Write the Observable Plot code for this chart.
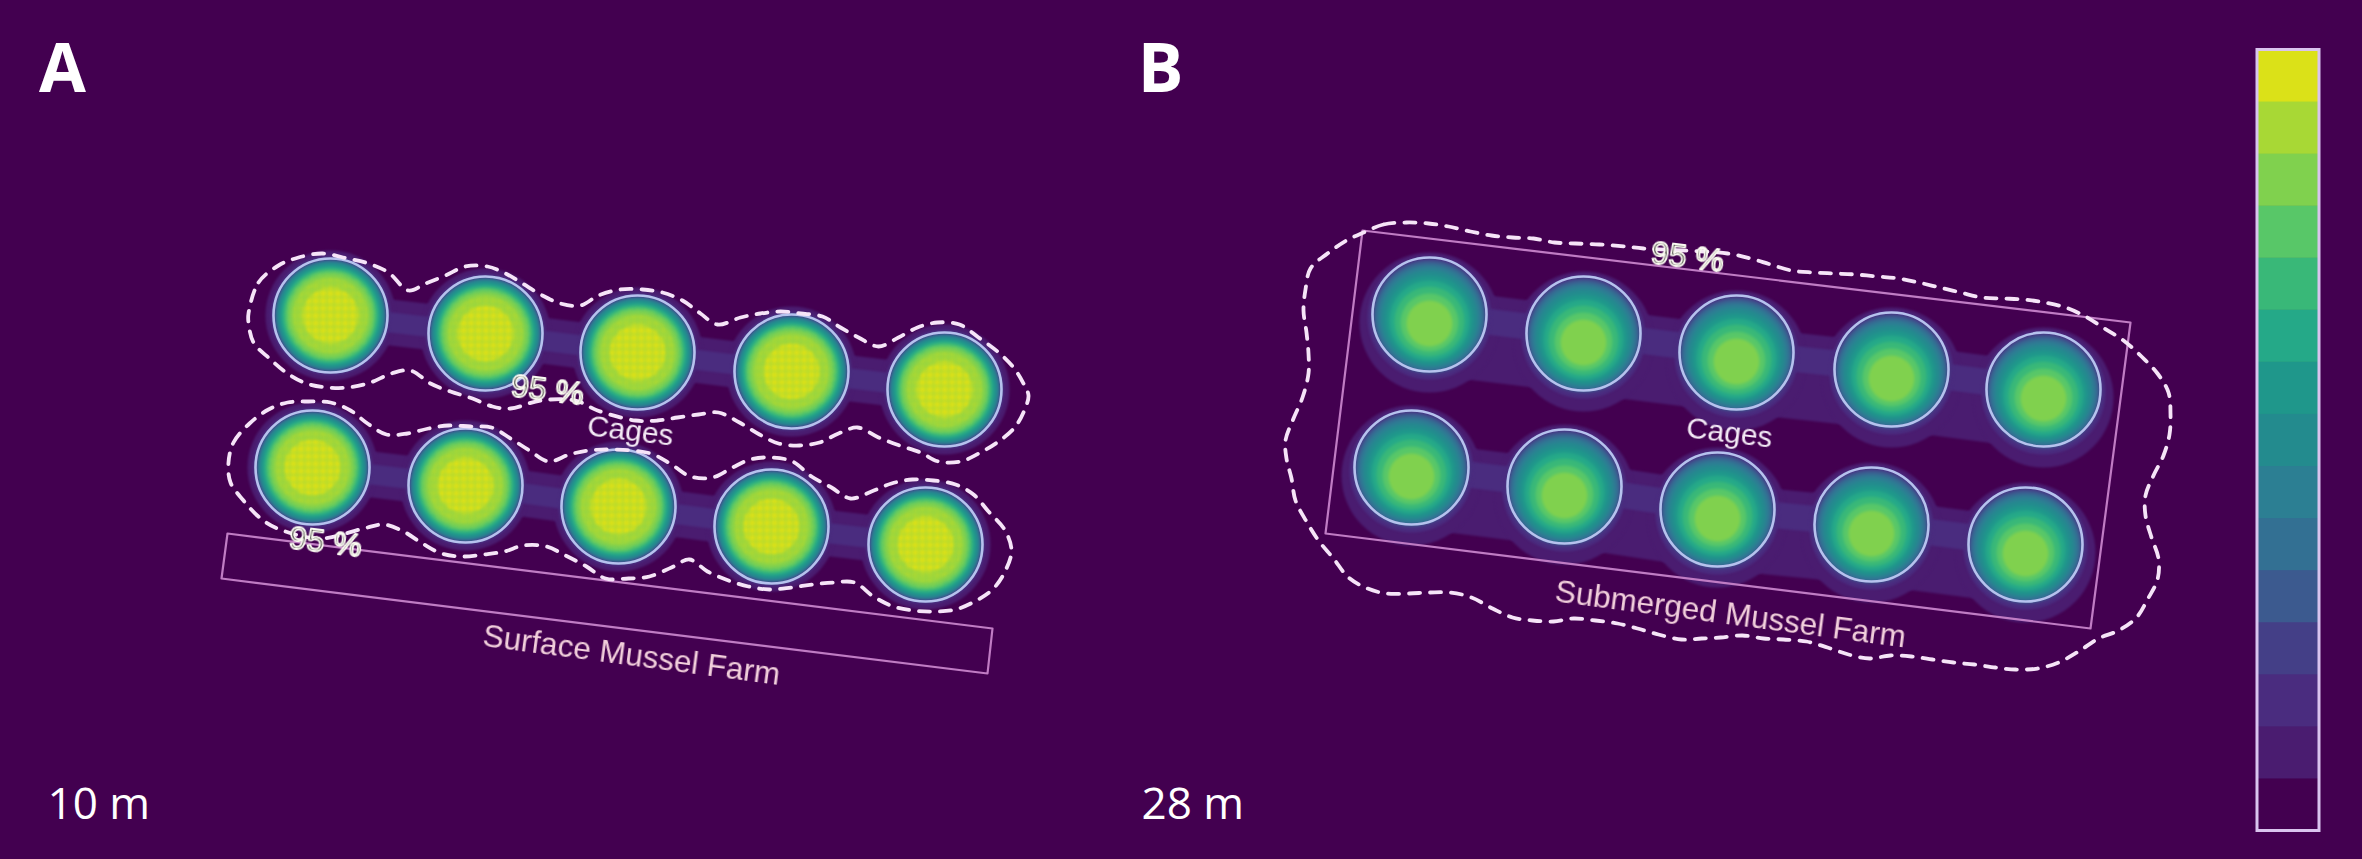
<!DOCTYPE html>
<html>
<head>
<meta charset="utf-8">
<script src="https://cdn.jsdelivr.net/npm/d3@7"></script>
<script src="https://cdn.jsdelivr.net/npm/@observablehq/plot@0.6"></script>
<style>
html,body{margin:0;padding:0;background:#430050;}
svg{display:block;}
.soft{filter:blur(1px);}
.core{filter:blur(1.6px);}
.softer{filter:blur(0.6px);}
</style>
</head>
<body>
<div id="chart"></div>
<script>
// Percentage levels of the stepped scale, bottom (0) to top (14)
const levels = d3.range(15);
const palette = ["#430050","#4a1c70","#4a2c7f","#443f87","#3c5a8f","#337093","#2c7f93","#238b8e","#1f978b","#25a988","#39b878","#58c768","#80d14e","#a8d835","#dbe118"];

// Cage centres, panel A
const cageAx = [330,485,637,791,944,312,465,618,771,925];
const cageAy = [315,333,352,371,389,467,485,506,526,544];
// Cage centres, panel B
const cageBx = [1429,1583,1736,1891,2043,1411,1564,1717,1871,2025];
const cageBy = [314,333,352,369,389,467,486,509,524,544];
const cageRadius = 57;
const meshRadius = 44;

// Outer edge of each concentration band measured from cage centre
const bandRadiusA = [0,65,60,57,56,55,54,53,51,49,47,45,42,38,28];
const bandRadiusB = [0,70,62,58,56,54,51,48,44,40,35,29,23,0,0];
// Downward displacement of each band's centre, panel B
const bandShiftB = [0,8,3,2,2,3,3,4,5,6,7,8,9,9,9];

// Bridges of low concentration between neighbouring cages: width, shift
const bridgeWidthA = [0,46,20];
const bridgeWidthB = [0,86,26];
const bridgeShiftB = [0,17,0];

// Farm outlines
const farmA = [[227,533],[992,628],[987,673],[221,578]];
const farmB = [[1362,230],[2130,322],[2090,628],[1325,533]];

// 95 % contours
const contourA1 = [[248,313],[258,282],[278,265],[298,257],[322,253],[347,258],[368,263],[388,272],[408,290],[425,283],[445,275],[465,266],[487,266],[505,273],[522,283],[540,294],[560,303],[580,305],[598,295],[620,289],[642,289],[662,292],[682,300],[700,313],[717,324],[740,317],[760,313],[780,311],[800,313],[822,316],[840,327],[858,337],[878,346],[898,337],[917,327],[937,322],[959,324],[978,337],[997,351],[1013,367],[1024,385],[1028,395],[1025,407],[1015,426],[998,441],[980,452],[960,461],[938,461],[920,452],[899,445],[878,437],[857,427],[838,433],[819,442],[799,445],[778,443],[759,434],[739,422],[718,412],[698,414],[677,417],[657,420],[635,420],[597,410],[575,400],[540,400],[510,408],[492,406],[472,398],[450,391],[430,383],[410,370],[391,373],[370,382],[348,387],[327,387],[306,383],[287,373],[269,358],[253,342],[248,322]];
const contourA2 = [[228,462],[233,442],[249,423],[268,409],[287,402],[308,401],[330,402],[350,410],[367,423],[386,434],[407,433],[428,428],[448,425],[470,426],[491,427],[510,438],[529,450],[548,461],[569,454],[588,450],[612,449],[650,453],[671,464],[690,476],[712,477],[732,467],[750,459],[771,457],[792,461],[811,476],[831,487],[850,498],[871,491],[891,483],[912,479],[933,480],[955,484],[973,494],[988,511],[1004,529],[1011,550],[1005,570],[993,588],[976,600],[955,609],[933,611],[913,610],[893,606],[873,596],[854,582],[833,582],[812,584],[791,587],[769,589],[748,586],[728,580],[707,571],[689,559],[671,567],[649,576],[628,578],[605,578],[586,566],[565,555],[546,546],[523,545],[504,551],[483,554],[462,556],[441,553],[422,543],[403,531],[383,524],[363,528],[320,538],[277,528],[259,517],[243,500],[230,482]];
const contourB = [[1363,232],[1383,224],[1406,222],[1428,223],[1448,226],[1470,231],[1491,235],[1512,237],[1533,238],[1554,242],[1575,243],[1599,244],[1625,246],[1643,248],[1727,253],[1750,258],[1770,264],[1791,270],[1813,272],[1834,273],[1855,274],[1877,276],[1898,278],[1918,282],[1939,287],[1960,292],[1981,297],[2002,298],[2023,299],[2044,302],[2065,307],[2085,316],[2104,328],[2123,340],[2141,356],[2157,373],[2168,392],[2170,413],[2169,434],[2163,455],[2153,475],[2145,495],[2145,515],[2151,537],[2158,558],[2157,579],[2147,599],[2136,617],[2118,630],[2098,638],[2078,651],[2058,662],[2037,668],[2015,669],[1995,667],[1974,664],[1953,662],[1932,659],[1911,656],[1890,655],[1869,658],[1848,654],[1827,647],[1806,641],[1783,639],[1763,638],[1742,635],[1720,637],[1701,638],[1681,639],[1658,634],[1637,628],[1617,623],[1595,620],[1573,618],[1553,621],[1532,620],[1512,617],[1492,608],[1471,597],[1450,592],[1429,592],[1408,593],[1386,593],[1367,588],[1348,577],[1333,558],[1318,540],[1306,521],[1295,500],[1291,478],[1286,458],[1285,440],[1293,418],[1302,397],[1308,373],[1308,353],[1306,332],[1303,310],[1305,289],[1310,268],[1327,253],[1346,240]];

// Text
const placeLabels = ["Cages","Cages","Surface Mussel Farm","Submerged Mussel Farm"];
const placeX = [630,1729,631,1730];
const placeY = [430,432,655,614];
const pctLabel = "95 %";
const pctX = [547,325,1687];
const pctY = [390,542,257];
const panelLabels = ["A","B"];
const panelX = [62,1160];
const depthLabels = ["10 m","28 m"];
const depthX = [47,1141];

// Colour bar span
const barX = [2257,2319];
const barTop = 49.5, barBottom = 830.5;

// Tables built from the arrays
const cages = cageAx.map((x,i)=>({x,y:cageAy[i]})).concat(cageBx.map((x,i)=>({x,y:cageBy[i]})));
const cagesA = cages.slice(0,10);
const bands = [];
cageAx.forEach((x,i)=>levels.forEach(l=>{ if(bandRadiusA[l]>0) bands.push({x,y:cageAy[i],r:bandRadiusA[l],l}); }));
cageBx.forEach((x,i)=>levels.forEach(l=>{ if(bandRadiusB[l]>0) bands.push({x,y:cageBy[i]+bandShiftB[l],r:bandRadiusB[l],l}); }));
const bridges = [];
function addBridges(xs,ys,widths,shifts){
  [0,5].forEach(s=>{ for(let i=s;i<s+4;i++){ [1,2].forEach(l=>bridges.push({
    x1:xs[i],y1:ys[i]+(shifts?shifts[l]:0),x2:xs[i+1],y2:ys[i+1]+(shifts?shifts[l]:0),w:widths[l],l})); } });
}
addBridges(cageAx,cageAy,bridgeWidthA,null);
addBridges(cageBx,cageBy,bridgeWidthB,bridgeShiftB);
const barStep = (barBottom-barTop)/levels.length;
const bar = levels.map(l=>({l,y1:barBottom-l*barStep,y2:barBottom-(l+1)*barStep}));
const pts = a=>a.map(([x,y])=>({x,y}));
const sansLabel = "'Liberation Sans',Arial,sans-serif";
const heavy = "'Open Sans',sans-serif";

const chart = Plot.plot({
  width:2362,height:859,margin:0,
  style:{background:"#430050"},
  x:{domain:[0,2362],axis:null},
  y:{domain:[859,0],axis:null},
  r:{type:"identity"},
  color:{type:"ordinal",domain:levels,range:palette},
  marks:[
    Plot.link(bridges.filter(d=>d.l===1),{x1:"x1",y1:"y1",x2:"x2",y2:"y2",stroke:"l",strokeWidth:"w",className:"soft"}),
    Plot.dot(bands.filter(d=>d.l===1),{x:"x",y:"y",r:"r",fill:"l",className:"soft"}),
    Plot.link(bridges.filter(d=>d.l===2),{x1:"x1",y1:"y1",x2:"x2",y2:"y2",stroke:"l",strokeWidth:"w",className:"soft"}),
    Plot.dot(bands.filter(d=>d.l===2),{x:"x",y:"y",r:"r",fill:"l",className:"soft"}),
    Plot.dot(bands.filter(d=>d.l>2),{x:"x",y:"y",r:"r",fill:"l",className:"core"}),
    Plot.dot(cagesA,{x:"x",y:"y",r:()=>meshRadius,fill:"url(#mesh)",className:"core"}),
    Plot.dot(cages,{x:"x",y:"y",r:()=>cageRadius,stroke:"#b6c2ee",strokeWidth:2.6,className:"softer"}),
    ...[farmA,farmB].map(f=>Plot.line(pts(f),{x:"x",y:"y",curve:"linear-closed",stroke:"#c07cc4",strokeWidth:2.2,className:"softer"})),
    ...[contourA1,contourA2,contourB].map(c=>Plot.line(pts(c),{x:"x",y:"y",curve:"catmull-rom-closed",stroke:"#f6e4f8",strokeWidth:3.8,strokeDasharray:"11 10",className:"softer"})),
    Plot.rect(bar,{x1:()=>barX[0],x2:()=>barX[1],y1:"y1",y2:"y2",insetTop:-0.6,fill:"l",className:"softer"}),
    Plot.rect([0],{x1:()=>barX[0],x2:()=>barX[1],y1:()=>barTop,y2:()=>barBottom,fill:"none",stroke:"#d9c4ee",strokeWidth:3,className:"softer"}),
    Plot.text(placeLabels.slice(0,2),{x:(d,i)=>placeX[i],y:(d,i)=>placeY[i],text:d=>d,rotate:7,fontSize:30,fontFamily:sansLabel,fill:"#f4eaf6",className:"softer"}),
    Plot.text(placeLabels.slice(2),{x:(d,i)=>placeX[i+2],y:(d,i)=>placeY[i+2],text:d=>d,rotate:7.5,fontSize:31.5,fontFamily:sansLabel,fill:"#f2cfdc",className:"softer"}),
    Plot.text(pctX,{x:d=>d,y:(d,i)=>pctY[i],text:()=>pctLabel,rotate:7,fontSize:32,fontFamily:sansLabel,fill:"#3f3f3a",stroke:"#fbfbf2",strokeWidth:1.8,paintOrder:"normal",className:"softer"}),
    Plot.text(panelLabels,{x:(d,i)=>panelX[i],y:()=>70,text:d=>d,fontSize:68,fontWeight:700,fontFamily:heavy,fill:"#ffffff"}),
    Plot.text(depthLabels,{x:(d,i)=>depthX[i],y:()=>804,text:d=>d,textAnchor:"start",fontSize:44,fontFamily:heavy,fill:"#ffffff"})
  ]
});
// Fine sampling-grid texture of the model output, used as a fill by the panel A mesh mark
d3.select(chart).insert("defs",":first-child").html(
  '<pattern id="mesh" width="7.4" height="7.4" patternUnits="userSpaceOnUse">'+
  '<path d="M0 0H7.4M0 0V7.4" stroke="#80d14e" stroke-opacity="0.55" stroke-width="2.6" fill="none"/></pattern>');
document.getElementById("chart").append(chart);
</script>
</body>
</html>
